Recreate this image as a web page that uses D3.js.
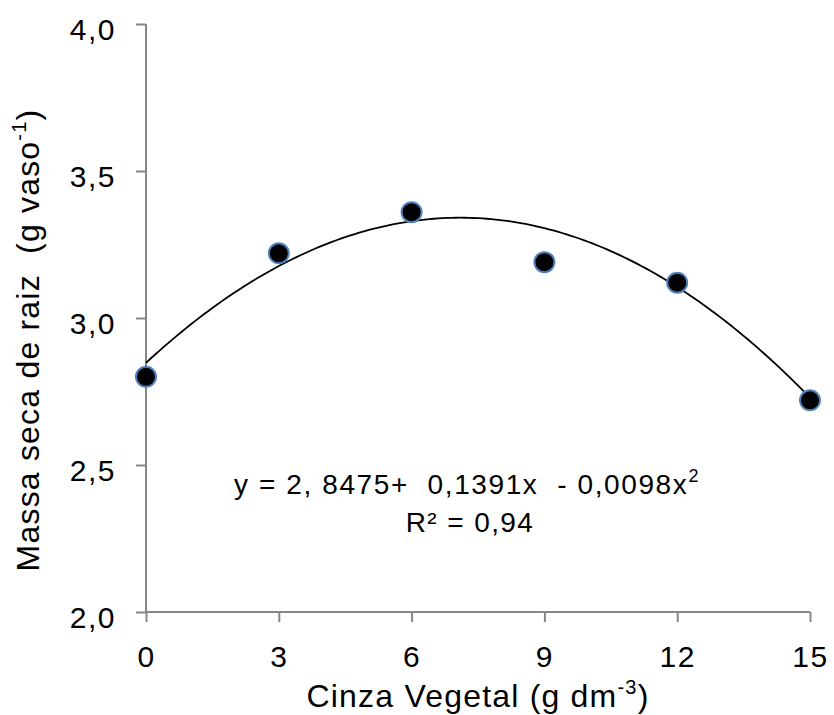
<!DOCTYPE html>
<html>
<head>
<meta charset="utf-8">
<script src="https://cdn.jsdelivr.net/npm/d3@7"></script>
<style>
  body { margin: 0; background: #fff; }
  text { font-family: "Liberation Sans", Arial, sans-serif; fill: #000; }
</style>
</head>
<body>
<div id="chart"></div>
<script>
// doses of vegetable ash and measured root dry mass
const doses = [0, 3, 6, 9, 12, 15];
const rootMass = [2.80, 3.22, 3.36, 3.19, 3.12, 2.72];
const xTicks = [0, 3, 6, 9, 12, 15];
const yTicks = [2.0, 2.5, 3.0, 3.5, 4.0];
// quadratic trend as printed on the chart: a + b*x + c*x^2
const coef = [2.8475, 0.1391, -0.0098];

const W = 834, H = 715;
const margin = { top: 24, right: 24, bottom: 103, left: 146 };
const width = W - margin.left - margin.right;
const height = H - margin.top - margin.bottom;

const svg = d3.select("#chart")
    .append("svg")
    .attr("width", W)
    .attr("height", H)
    .append("g")
    .attr("transform", `translate(${margin.left},${margin.top})`);

const x = d3.scaleLinear().domain([0, 15]).range([0, width]);
const y = d3.scaleLinear().domain([2, 4]).range([height, 0]);

const fmt = d => d3.format(".1f")(d).replace(".", ",");

const xAxis = svg.append("g")
    .attr("transform", `translate(0,${height})`)
    .call(d3.axisBottom(x).tickValues(xTicks).tickSize(10).tickPadding(24).tickFormat(d => d));
const yAxis = svg.append("g")
    .call(d3.axisLeft(y).tickValues(yTicks).tickSize(10).tickPadding(20).tickFormat(fmt));

[xAxis, yAxis].forEach(g => {
    g.select(".domain").attr("stroke", "#868686").attr("stroke-width", 2);
    g.selectAll(".tick line").attr("stroke", "#868686").attr("stroke-width", 2);
    g.selectAll(".tick text")
        .attr("font-size", 30)
        .attr("letter-spacing", 1.5)
        .attr("font-family", "Liberation Sans, Arial, sans-serif");
});
yAxis.selectAll(".tick text").attr("dy", "0.52em");
// keep only the axis lines, no outer ticks
yAxis.select(".domain").attr("d", `M0,${height}V0`);
xAxis.select(".domain").attr("d", `M0,0H${width}`);

// trend line
const curveX = d3.range(0, 15.01, 0.1);
const line = d3.line()
    .x(d => x(d))
    .y(d => y(coef[0] + coef[1] * d + coef[2] * d * d));
svg.append("path")
    .datum(curveX)
    .attr("fill", "none")
    .attr("stroke", "#000")
    .attr("stroke-width", 1.8)
    .attr("d", line);

// points
svg.selectAll(".pt")
    .data(doses)
    .enter()
    .append("circle")
    .attr("class", "pt")
    .attr("cx", d => x(d))
    .attr("cy", (d, i) => y(rootMass[i]))
    .attr("r", 10)
    .attr("fill", "#000")
    .attr("stroke", "#4F81BD")
    .attr("stroke-width", 2);

// equation
const eq = svg.append("text")
    .attr("x", 467 - margin.left)
    .attr("y", 494 - margin.top)
    .attr("text-anchor", "middle")
    .attr("font-size", 28)
    .attr("letter-spacing", 1.6)
    .attr("xml:space", "preserve");
eq.append("tspan").text("y = 2, 8475+  0,1391x  - 0,0098x");
eq.append("tspan").attr("font-size", 18).attr("dy", -12).text("2");

svg.append("text")
    .attr("x", 470 - margin.left)
    .attr("y", 532 - margin.top)
    .attr("text-anchor", "middle")
    .attr("font-size", 28)
    .attr("letter-spacing", 1.4)
    .text("R² = 0,94");

// axis titles
const xt = svg.append("text")
    .attr("x", width / 2)
    .attr("y", 707 - margin.top)
    .attr("text-anchor", "middle")
    .attr("font-size", 32)
    .attr("letter-spacing", 1.2)
    .attr("xml:space", "preserve");
xt.append("tspan").text("Cinza Vegetal (g dm");
xt.append("tspan").attr("font-size", 20).attr("dy", -13).text("-3");
xt.append("tspan").attr("dy", 13).text(")");

const yt = svg.append("text")
    .attr("transform", `translate(${39 - margin.left},${340 - margin.top}) rotate(-90)`)
    .attr("text-anchor", "middle")
    .attr("font-size", 32)
    .attr("letter-spacing", 1.2)
    .attr("xml:space", "preserve");
yt.append("tspan").text("Massa seca de raiz  (g vaso");
yt.append("tspan").attr("font-size", 20).attr("dy", -13).text("-1");
yt.append("tspan").attr("dy", 13).text(")");
</script>
</body>
</html>
